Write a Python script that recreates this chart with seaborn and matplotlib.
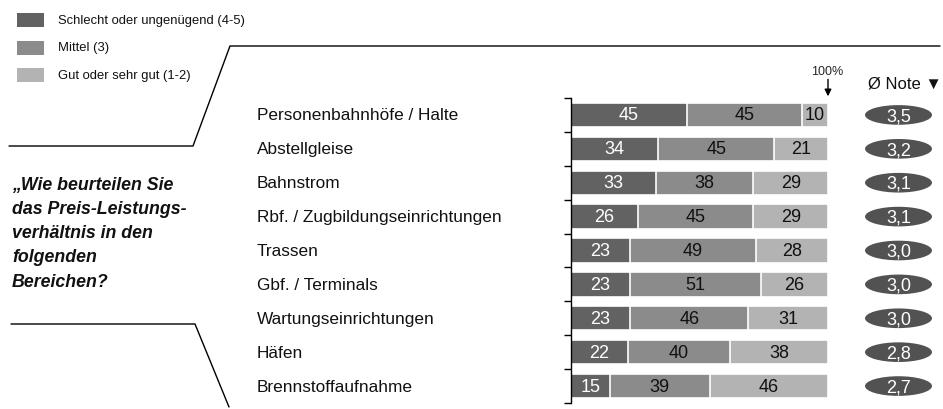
import numpy as np
import pandas as pd
import seaborn as sns
import matplotlib.pyplot as plt
from matplotlib import font_manager
from matplotlib.lines import Line2D
from matplotlib.patches import Ellipse, Rectangle
from matplotlib.transforms import blended_transform_factory

categories = ['Personenbahnhöfe / Halte', 'Abstellgleise', 'Bahnstrom',
              'Rbf. / Zugbildungseinrichtungen', 'Trassen', 'Gbf. / Terminals',
              'Wartungseinrichtungen', 'Häfen', 'Brennstoffaufnahme']
schlecht = [45, 34, 33, 26, 23, 23, 23, 22, 15]
mittel = [45, 45, 38, 45, 49, 51, 46, 40, 39]
gut = [10, 21, 29, 29, 28, 26, 31, 38, 46]
note = ['3,5', '3,2', '3,1', '3,1', '3,0', '3,0', '3,0', '2,8', '2,7']
legend_labels = ['Schlecht oder ungenügend (4-5)', 'Mittel (3)', 'Gut oder sehr gut (1-2)']
question = '„Wie beurteilen Sie\ndas Preis-Leistungs-\nverhältnis in den\nfolgenden\nBereichen?'

colors = ['#626262', '#8b8b8b', '#b3b3b3']
oval_color = '#525252'

sns.set_theme(style='white')
names = {f.name for f in font_manager.fontManager.ttflist}
narrow = 'Liberation Sans Narrow' if 'Liberation Sans Narrow' in names else 'Liberation Sans'
plt.rcParams['font.family'] = ['Liberation Sans', 'DejaVu Sans']

W, H = 943, 410
fig = plt.figure(figsize=(W / 100, H / 100), dpi=100)


def fx(px):
    return px / W


def fy(py):
    return 1 - py / H


ax = fig.add_axes([fx(571), fy(404), fx(828) - fx(571), (404 - 99) / H])

df = pd.DataFrame({'cat': categories, 'schlecht': schlecht, 'mittel': mittel, 'gut': gut})
df['s1'] = df['schlecht']
df['s2'] = df['schlecht'] + df['mittel']
df['s3'] = df['s2'] + df['gut']

# overlapping bars to make the stack
for col, c in zip(['s3', 's2', 's1'], colors[::-1]):
    sns.barplot(data=df, x=col, y='cat', color=c, orient='h', width=0.72,
                edgecolor='white', linewidth=1.2, ax=ax, saturation=1)

ax.set_xlim(0, 100)
ax.set_ylim(len(categories) - 0.5, -0.5)
ax.set_xlabel('')
ax.set_ylabel('')
ax.set_xticks([])
ax.set_yticks(np.arange(-0.5, len(categories), 1.0))
ax.set_yticklabels([])
ax.tick_params(axis='y', direction='out', length=5, width=1, color='black', left=True)
for s in ['top', 'right', 'bottom']:
    ax.spines[s].set_visible(False)
ax.spines['left'].set_color('black')
ax.spines['left'].set_linewidth(1)

# segment labels
for i in range(len(categories)):
    vals = [schlecht[i], mittel[i], gut[i]]
    left = 0
    for k, v in enumerate(vals):
        ax.text(left + v / 2, i, str(v), ha='center', va='center',
                fontsize=13, family=narrow, color='white' if k == 0 else '#111111')
        left += v

# category labels and ovals
tr = blended_transform_factory(fig.transFigure, ax.transData)
for i, cat in enumerate(categories):
    ax.text(fx(257), i, cat, transform=tr, ha='left', va='center', fontsize=12.4,
            color='#111111', clip_on=False)
    ax.add_patch(Ellipse((fx(898.5), i), fx(67), 0.58, transform=tr,
                         facecolor=oval_color, edgecolor='none', clip_on=False))
    ax.text(fx(898.5), i + 0.02, note[i], transform=tr, ha='center', va='center',
            fontsize=13, family=narrow, color='white', clip_on=False)

fig.text(fx(942), fy(84), 'Ø Note ▼', ha='right', va='center', fontsize=12,
         family=[narrow, 'DejaVu Sans'], color='#111111')

# 100% marker
ax.annotate('', xy=(100, -0.55), xytext=(100, -1.05), annotation_clip=False,
            arrowprops=dict(arrowstyle='-|>', color='black', lw=1, mutation_scale=10,
                            shrinkA=0, shrinkB=0))
ax.text(99.5, -1.3, '100%', ha='center', va='center', fontsize=9, family=narrow)

# legend
for k, lab in enumerate(legend_labels):
    yc = 21 + k * 27.5
    fig.add_artist(Rectangle((fx(17), fy(yc + 7)), fx(27), 14 / H,
                             transform=fig.transFigure, facecolor=colors[k], edgecolor='none'))
    fig.text(fx(58), fy(yc), lab, ha='left', va='center', fontsize=9.4, color='#111111')

# question
fig.text(fx(12), fy(177), question, ha='left', va='top', fontsize=12.8,
         fontweight='bold', fontstyle='italic', linespacing=1.55, color='#111111')

# bracket lines
lines = [
    [(9, 147), (193, 147), (230, 47), (940, 47)],
    [(11, 325), (195, 325), (229, 408)],
]
for pts in lines:
    xs = [fx(p[0]) for p in pts]
    ys = [fy(p[1]) for p in pts]
    fig.add_artist(Line2D(xs, ys, transform=fig.transFigure, color='black', lw=1))

fig.savefig('out.png', dpi=100)
